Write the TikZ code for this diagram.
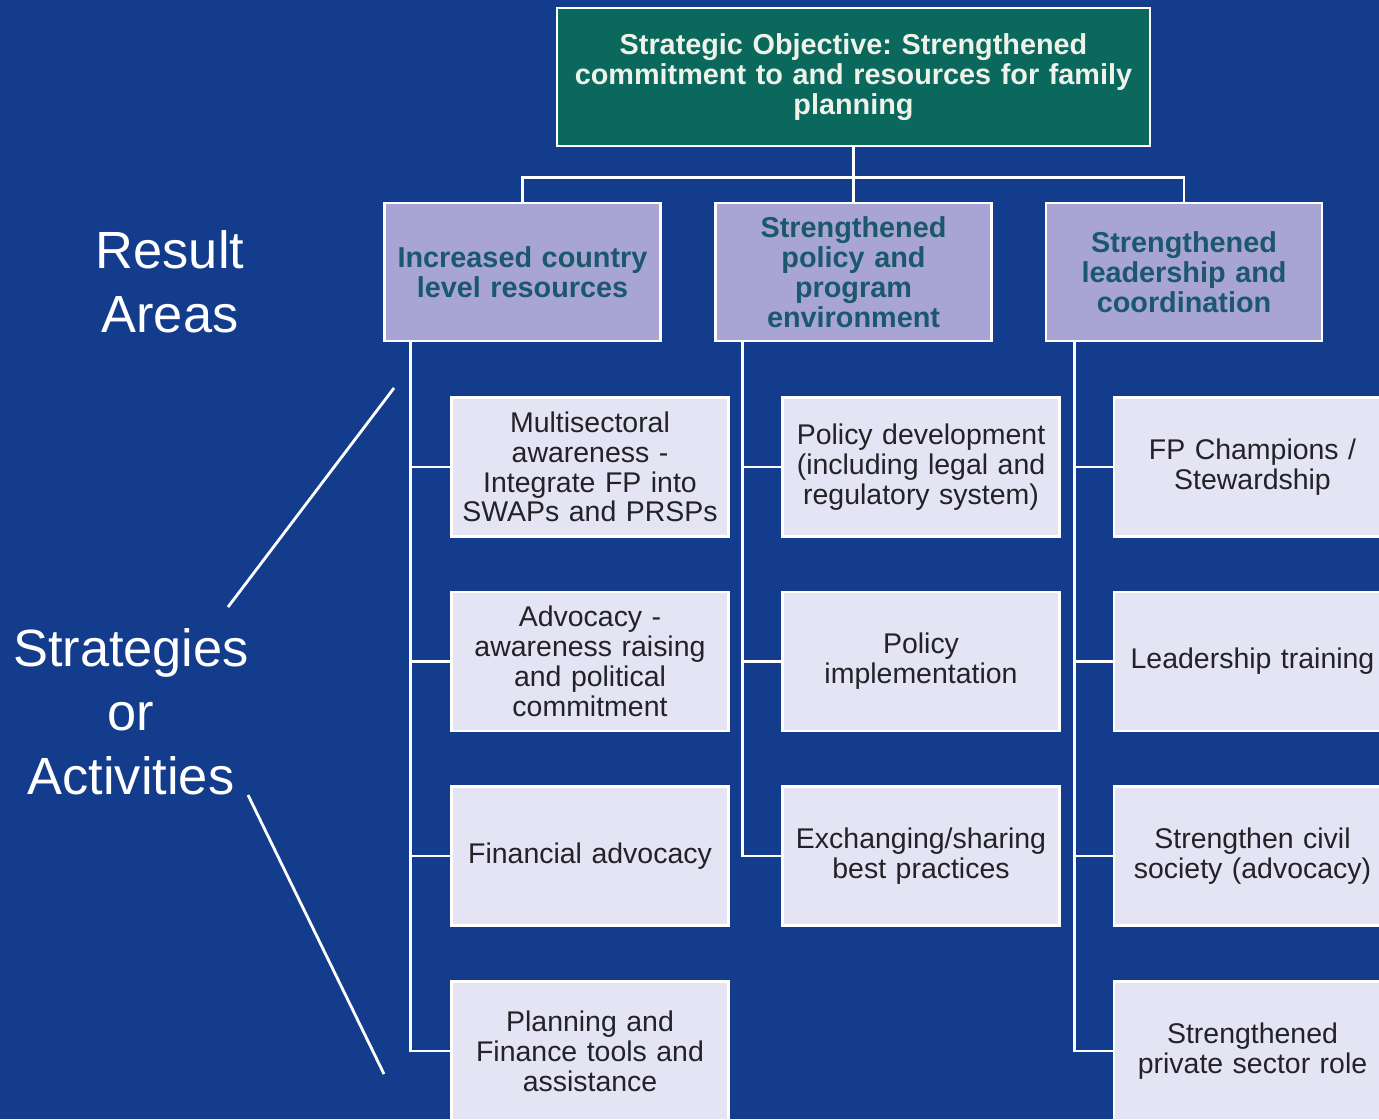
\documentclass[tikz,border=0pt]{standalone}
\usepackage{fontspec}
\setmainfont{Liberation Sans}
\usepackage{xcolor}
\usetikzlibrary{calc,positioning}
\frenchspacing

\definecolor{bgblue}{RGB}{20,60,140}
\definecolor{objgreen}{RGB}{10,104,92}
\definecolor{objtext}{RGB}{238,242,232}
\definecolor{arealav}{RGB}{168,164,212}
\definecolor{areatext}{RGB}{28,88,108}
\definecolor{actgray}{RGB}{228,228,244}
\definecolor{acttext}{RGB}{34,34,40}

\begin{document}
\begin{tikzpicture}[
  obj/.style={draw=white,line width=1.6pt,fill=objgreen,text=objtext,font=\fontsize{16.4}{17}\selectfont\bfseries,align=center,text width=11.4cm,inner xsep=0.23cm,minimum height=2.76cm},
  area/.style={draw=white,line width=1.6pt,fill=arealav,text=areatext,font=\fontsize{16.4}{17}\selectfont\bfseries,align=center,text width=5.3cm,inner xsep=0.11cm,minimum height=2.76cm},
  act/.style={draw=white,line width=1.6pt,fill=actgray,text=acttext,font=\fontsize{16.2}{17}\selectfont,align=center,text width=5.3cm,inner xsep=0.12cm,minimum height=2.78cm},
  conn/.style={white,line width=1.6pt},
  side/.style={text=white,font=\fontsize{29.8}{36.5}\selectfont,align=center}]
\useasboundingbox (0,0) rectangle (27.58,-22.38);
\fill[bgblue] (0,0) rectangle (27.58,-22.38);
\clip (0,0) rectangle (27.58,-22.38);

% objective and result areas
\node[obj] (obj) at (17.07,-1.54) {Strategic Objective: Strengthened\\commitment to and resources for family\\planning};
\node[area] (ra1) at (10.45,-5.44) {Increased country\\level resources};
\node[area] (ra2) at (17.07,-5.44) {Strengthened\\policy and\\program\\environment};
\node[area] (ra3) at (23.68,-5.44) {Strengthened\\leadership and\\coordination};

% strategies / activities
\node[act] (s11) at (11.80,-9.34)  {Multisectoral\\awareness -\\Integrate FP into\\SWAPs and PRSPs};
\node[act] (s12) at (11.80,-13.23) {Advocacy -\\awareness raising\\and political\\commitment};
\node[act] (s13) at (11.80,-17.12) {Financial advocacy};
\node[act] (s14) at (11.80,-21.02) {Planning and\\Finance tools and\\assistance};
\node[act] (s21) at (18.42,-9.34)  {Policy development\\(including legal and\\regulatory system)};
\node[act] (s22) at (18.42,-13.23) {Policy\\implementation};
\node[act] (s23) at (18.42,-17.12) {Exchanging/sharing\\best practices};
\node[act] (s31) at (25.05,-9.34)  {FP Champions /\\Stewardship};
\node[act] (s32) at (25.05,-13.23) {Leadership training};
\node[act] (s33) at (25.05,-17.12) {Strengthen civil\\society (advocacy)};
\node[act] (s34) at (25.05,-21.02) {Strengthened\\private sector role};

% side labels
\node[side] (lres) at (3.40,-5.63) {Result\\Areas};
\node[side] (lstr) at (2.62,-14.24) {Strategies\\or\\Activities};
\coordinate (pa) at (4.56,-12.14);
\coordinate (pb) at (7.88,-7.76);
\coordinate (pc) at (4.96,-15.90);
\coordinate (pd) at (7.68,-21.48);

% tree lines
\coordinate (top) at ($(obj.south)+(0,-0.6)$);
\draw[conn] (obj.south) -- (top);
\draw[conn] (ra1.north) |- (top) -| (ra3.north);
\draw[conn] (top) -- (ra2.north);
\coordinate (sp1) at ($(ra1.south west)+(0.55,0)$);
\coordinate (sp2) at ($(ra2.south west)+(0.56,0)$);
\coordinate (sp3) at ($(ra3.south west)+(0.60,0)$);
\draw[conn] (sp1) |- (s14.west);
\draw[conn] (sp2) |- (s23.west);
\draw[conn] (sp3) |- (s34.west);
\foreach \n in {s11,s12,s13}
  \draw[conn] (sp1 |- \n.west) -- (\n.west);
\foreach \n in {s21,s22}
  \draw[conn] (sp2 |- \n.west) -- (\n.west);
\foreach \n in {s31,s32,s33}
  \draw[conn] (sp3 |- \n.west) -- (\n.west);

% pointers
\draw[conn] (pa) -- (pb);
\draw[conn] (pc) -- (pd);
\end{tikzpicture}
\end{document}
